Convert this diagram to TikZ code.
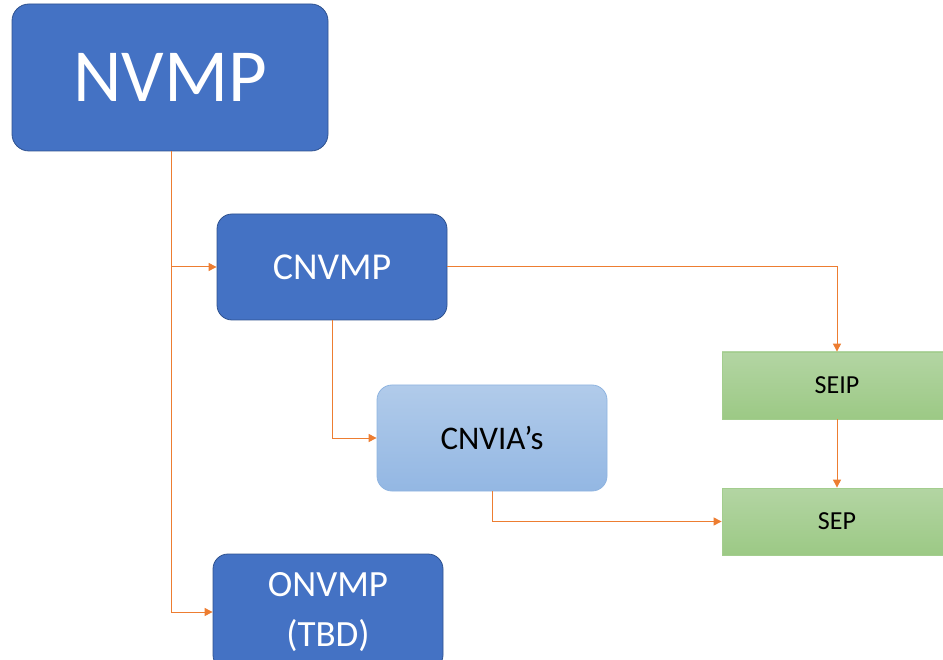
\documentclass[tikz,border=0pt]{standalone}
\usepackage{fontspec}
\setmainfont{Carlito}
\usetikzlibrary{arrows.meta}
\definecolor{dblue}{HTML}{4472C4}
\definecolor{dblueb}{HTML}{2F528F}
\definecolor{lbluet}{HTML}{B1CBEA}
\definecolor{lblueb}{HTML}{93B7E3}
\definecolor{lbluebd}{HTML}{8FB4E0}
\definecolor{greent}{HTML}{B3D5A3}
\definecolor{greenb}{HTML}{9CC985}
\definecolor{greenbd}{HTML}{A3CD8E}
\definecolor{orng}{HTML}{ED7D31}
\tikzset{
  darkbox/.style={draw=dblueb, line width=0.8pt, fill=dblue, text=white, rounded corners=15pt, align=center},
  lightbox/.style={draw=lbluebd, line width=0.8pt, top color=lbluet, bottom color=lblueb, text=black, rounded corners=15pt, align=center},
  greenbox/.style={draw=greenbd, line width=0.8pt, top color=greent, bottom color=greenb, text=black, align=center},
  conn/.style={draw=orng, line width=1pt, -{Triangle[length=8pt,width=8pt]}}
}
\begin{document}
\begin{tikzpicture}[x=1pt,y=-1pt]
\useasboundingbox (0,0) rectangle (943,660);
\clip (0,0) rectangle (943,660);
\node[darkbox, minimum width=316pt, minimum height=147pt, rounded corners=17pt, font=\fontsize{75}{78}\selectfont] (nvmp) at (170,77.5) {NVMP};
\node[darkbox, minimum width=230pt, minimum height=106pt, font=\fontsize{38}{40}\selectfont] (cnvmp) at (332,267) {CNVMP};
\node[lightbox, minimum width=230pt, minimum height=106pt, font=\fontsize{33}{35}\selectfont] (cnvia) at (492,438) {CNVIA’s};
\node[darkbox, minimum width=230pt, minimum height=116pt, font=\fontsize{37}{50}\selectfont] (onvmp) at (328,612) {ONVMP\\(TBD)};
\node[greenbox, minimum width=230pt, minimum height=67pt, font=\fontsize{26}{28}\selectfont] (seip) at (837,385.5) {SEIP};
\node[greenbox, minimum width=230pt, minimum height=67pt, font=\fontsize{26}{28}\selectfont] (sep) at (837,521.5) {SEP};
\draw[conn] ([xshift=1pt]nvmp.south) |- (onvmp.west);
\draw[conn] ([xshift=1pt]nvmp.south) |- (cnvmp.west);
\draw[conn] (cnvmp.south) |- (cnvia.west);
\draw[conn] (cnvmp.east) -| (seip.north);
\draw[conn] (seip.south) -- (sep.north);
\draw[conn] (cnvia.south) |- (sep.west);
\end{tikzpicture}
\end{document}
